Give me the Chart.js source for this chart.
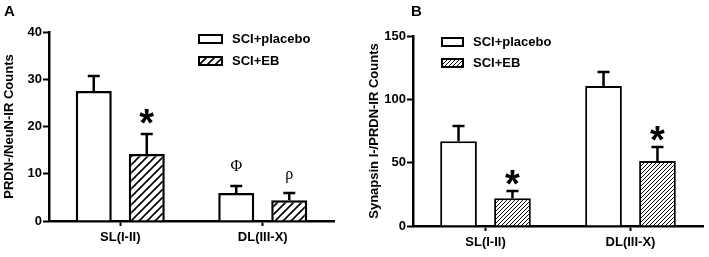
<!DOCTYPE html>
<html><head><meta charset="utf-8">
<script src="https://cdn.jsdelivr.net/npm/chart.js@4.4.1/dist/chart.umd.min.js"></script>
<style>
html,body{margin:0;padding:0;background:#fff;}
#wrap{position:relative;width:709px;height:257px;overflow:hidden;}
#pa{position:absolute;left:0;top:0;width:355px;height:257px;}
#pb{position:absolute;left:355px;top:0;width:354px;height:257px;}
</style></head><body>
<div id="wrap"><div id="pa"><canvas id="ca"></canvas></div><div id="pb"><canvas id="cb"></canvas></div></div>
<script>
const categories = ['SL(I-II)', 'DL(III-X)'];
const seriesNames = ['SCI+placebo', 'SCI+EB'];
// Panel A: PRDN-/NeuN-IR counts
const placeboA = [27.5, 5.9];
const placeboAErr = [3.2, 1.5];
const ebA = [14.2, 4.4];
const ebAErr = [4.2, 1.5];
const sigPlaceboA = ['', 'Φ'];
const sigEbA = ['*', 'ρ'];
const ticksA = [0, 10, 20, 30, 40];
// Panel B: Synapsin I-/PRDN-IR counts
const placeboB = [67, 110.5];
const placeboBErr = [12, 11];
const ebB = [22, 51.3];
const ebBErr = [5.6, 11];
const sigPlaceboB = ['', ''];
const sigEbB = ['*', '*'];
const ticksB = [0, 50, 100, 150];

const FONT = "'Liberation Sans', Arial, sans-serif";
const SERIF = "'Liberation Serif', 'Times New Roman', serif";

function makeHatch(ctx, size, lw) {
  const c = document.createElement('canvas');
  c.width = size; c.height = size;
  const g = c.getContext('2d');
  g.fillStyle = '#fff'; g.fillRect(0, 0, size, size);
  g.strokeStyle = '#000'; g.lineWidth = lw; g.beginPath();
  g.moveTo(-1, size + 1); g.lineTo(size + 1, -1);
  g.moveTo(-size / 2 - 1, size / 2 + 1); g.lineTo(size / 2 + 1, -size / 2 - 1);
  g.moveTo(size / 2 - 1, size * 1.5 + 1); g.lineTo(size * 1.5 + 1, size / 2 - 1);
  g.stroke();
  return ctx.createPattern(c, 'repeat');
}

const extrasPlugin = {
  id: 'extras',
  afterDatasetsDraw(chart, args, o) {
    const ctx = chart.ctx;
    const ys = chart.scales.y;
    ctx.save();
    chart.data.datasets.forEach((ds, i) => {
      const meta = chart.getDatasetMeta(i);
      meta.data.forEach((el, j) => {
        const top = ys.getPixelForValue(ds.data[j] + ds.errors[j]);
        ctx.strokeStyle = '#000'; ctx.lineWidth = o.errWidth;
        ctx.beginPath();
        ctx.moveTo(el.x, el.y); ctx.lineTo(el.x, top);
        ctx.moveTo(el.x - o.capHalf, top); ctx.lineTo(el.x + o.capHalf, top);
        ctx.stroke();
        const s = ds.sig[j];
        if (s) {
          ctx.fillStyle = '#000'; ctx.textAlign = 'center'; ctx.textBaseline = 'alphabetic';
          if (s === '*') { ctx.font = 'bold ' + o.starSize + 'px ' + FONT; ctx.fillText(s, el.x, top + o.starDy); }
          else if (s === 'Φ') { ctx.font = o.greekSize + 'px ' + SERIF; ctx.fillText(s, el.x, top - 15); }
          else { ctx.font = o.greekSize + 'px ' + SERIF; ctx.fillText(s, el.x, top - 14); }
        }
      });
    });
    ctx.font = 'bold 13px ' + FONT;
    ctx.textAlign = 'left'; ctx.textBaseline = 'middle';
    chart.data.datasets.forEach((ds, i) => {
      const cy = o.legY + i * o.legGap;
      ctx.fillStyle = ds.backgroundColor;
      ctx.fillRect(o.legX, cy - o.boxH / 2, o.boxW, o.boxH);
      ctx.strokeStyle = '#000'; ctx.lineWidth = 2;
      ctx.strokeRect(o.legX, cy - o.boxH / 2, o.boxW, o.boxH);
      ctx.fillStyle = '#000';
      ctx.fillText(ds.label, o.legX + o.boxW + 10, cy);
    });
    ctx.font = 'bold 15px ' + FONT; ctx.textBaseline = 'alphabetic';
    ctx.fillText(o.letter, o.letterX, 16);
    ctx.restore();
  }
};

function makeChart(id, p) {
  const ctx = document.getElementById(id).getContext('2d');
  const hatch = makeHatch(ctx, p.hatchSize, p.hatchLw);
  return new Chart(ctx, {
    type: 'bar',
    data: {
      labels: categories,
      datasets: [
        { label: seriesNames[0], data: p.placebo, errors: p.placeboErr, sig: p.sigPlacebo,
          backgroundColor: '#ffffff', borderColor: '#000', borderWidth: p.bw, borderSkipped: 'start' },
        { label: seriesNames[1], data: p.eb, errors: p.ebErr, sig: p.sigEb,
          backgroundColor: hatch, borderColor: '#000', borderWidth: p.bw, borderSkipped: 'start' }
      ]
    },
    options: {
      responsive: true, maintainAspectRatio: false, animation: false,
      devicePixelRatio: 1,
      categoryPercentage: 0.744, barPercentage: 0.68,
      layout: { padding: { top: p.padTop, right: p.padRight, left: 0, bottom: 0 } },
      plugins: {
        legend: { display: false }, tooltip: { enabled: false },
        extras: p.extras
      },
      scales: {
        x: {
          grid: { display: true, drawOnChartArea: false, drawTicks: true, tickLength: 5, tickWidth: 2, color: '#000', offset: false },
          border: { color: '#000', width: 2.5 },
          ticks: { color: '#000', font: { family: FONT, size: 13, weight: 'bold' }, padding: 4 },
          afterFit(s) { s.height = p.xH; }
        },
        y: {
          min: 0, max: p.ticks[p.ticks.length - 1],
          afterBuildTicks(s) { s.ticks = p.ticks.map(v => ({ value: v })); },
          grid: { display: true, drawOnChartArea: false, drawTicks: true, tickLength: 6, tickWidth: 2, color: '#000' },
          border: { color: '#000', width: 2.5 },
          ticks: { color: '#000', font: { family: FONT, size: 13, weight: 'bold' }, padding: 1 },
          title: { display: true, text: p.title, color: '#000', font: { family: FONT, size: 13, weight: 'bold' }, padding: { top: p.titlePad, bottom: 0 } },
          afterFit(s) { s.width = p.yW; }
        }
      }
    },
    plugins: [extrasPlugin]
  });
}

makeChart('ca', {
  placebo: placeboA, placeboErr: placeboAErr, eb: ebA, ebErr: ebAErr,
  sigPlacebo: sigPlaceboA, sigEb: sigEbA, ticks: ticksA,
  title: 'PRDN-/NeuN-IR Counts', titlePad: 2,
  hatchSize: 8, hatchLw: 1.6, bw: 2.5,
  padTop: 32, padRight: 21, xH: 36, yW: 49,
  extras: { errWidth: 2.5, capHalf: 6, starSize: 38, starDy: 2, greekSize: 16,
    legX: 199, legY: 39, legGap: 22, boxW: 23, boxH: 8, letter: 'A', letterX: 4 }
});
makeChart('cb', {
  placebo: placeboB, placeboErr: placeboBErr, eb: ebB, ebErr: ebBErr,
  sigPlacebo: sigPlaceboB, sigEb: sigEbB, ticks: ticksB,
  title: 'Synapsin I-/PRDN-IR Counts', titlePad: 12,
  hatchSize: 4, hatchLw: 1, bw: 2,
  padTop: 36, padRight: 6, xH: 31, yW: 58,
  extras: { errWidth: 2.5, capHalf: 6, starSize: 38, starDy: 6, greekSize: 16,
    legX: 87, legY: 42, legGap: 21, boxW: 21, boxH: 8, letter: 'B', letterX: 56 }
});
</script>
</body></html>
